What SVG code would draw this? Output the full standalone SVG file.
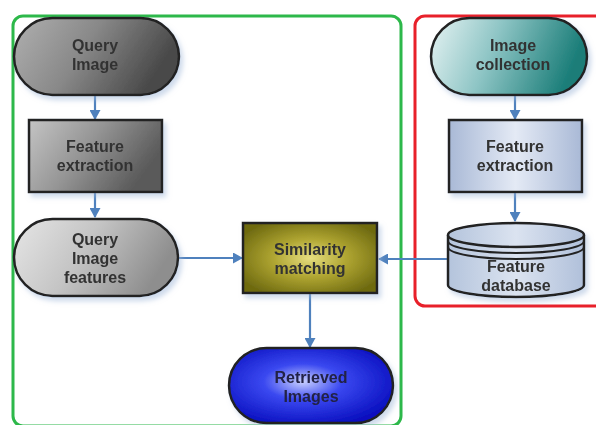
<svg xmlns="http://www.w3.org/2000/svg" width="596" height="425" viewBox="0 0 596 425">
<defs>
<linearGradient id="gDark" x1="0" y1="0" x2="1" y2="0.3"><stop offset="0" stop-color="#b0b0b0"/><stop offset="0.5" stop-color="#888"/><stop offset="1" stop-color="#484848"/></linearGradient>
<linearGradient id="gMid" x1="0" y1="0" x2="1" y2="0.4"><stop offset="0" stop-color="#c4c4c4"/><stop offset="0.5" stop-color="#959595"/><stop offset="1" stop-color="#5a5a5a"/></linearGradient>
<linearGradient id="gLight" x1="0" y1="0" x2="1" y2="0.3"><stop offset="0" stop-color="#e6e6e6"/><stop offset="0.5" stop-color="#c4c4c4"/><stop offset="1" stop-color="#8e8e8e"/></linearGradient>
<linearGradient id="gTeal" x1="0" y1="0" x2="1" y2="0.2"><stop offset="0" stop-color="#e6f3f3"/><stop offset="0.45" stop-color="#8ec5c5"/><stop offset="1" stop-color="#1a7d78"/></linearGradient>
<linearGradient id="gBlueBox" x1="0" y1="0" x2="1" y2="0"><stop offset="0" stop-color="#a9b9d6"/><stop offset="0.5" stop-color="#e4eaf5"/><stop offset="1" stop-color="#a9b9d6"/></linearGradient>
<linearGradient id="gCyl" x1="0" y1="0" x2="1" y2="0"><stop offset="0" stop-color="#b4c4dc"/><stop offset="0.5" stop-color="#dbe3f0"/><stop offset="1" stop-color="#b0c0da"/></linearGradient>
<radialGradient id="gOlive" cx="0.5" cy="0.5" r="0.6"><stop offset="0" stop-color="#e6de80"/><stop offset="0.45" stop-color="#b0a632"/><stop offset="1" stop-color="#6e6a10"/></radialGradient>
<radialGradient id="gBlue" cx="0.45" cy="0.45" r="0.6"><stop offset="0" stop-color="#c8d0ff"/><stop offset="0.4" stop-color="#3a48f0"/><stop offset="1" stop-color="#0a10c0"/></radialGradient>
<marker id="ah" markerWidth="11" markerHeight="11" refX="9" refY="5.5" orient="auto" markerUnits="userSpaceOnUse"><path d="M0,0 L10,5.5 L0,11 Z" fill="#4f81bd"/></marker>
<filter id="sh" x="-10%" y="-10%" width="130%" height="140%"><feDropShadow dx="3" dy="4" stdDeviation="2.5" flood-color="#9fb6d8" flood-opacity="0.5"/></filter>
</defs>
<style>
.lbl{font-family:"Liberation Sans",Arial,sans-serif;font-weight:bold;font-size:16px;fill:#333;text-anchor:middle}
.edge{stroke:#4f81bd;stroke-width:2.2;fill:none;marker-end:url(#ah)}
.node{stroke:#222;stroke-width:2.5}
</style>
<rect width="596" height="425" fill="#fff"/>
<g id="groups">
<rect x="13" y="16" width="388" height="410" rx="10" fill="none" stroke="#2db84a" stroke-width="3"/>
<rect x="415" y="16" width="190" height="290" rx="10" fill="none" stroke="#e8202a" stroke-width="3"/>
</g>
<g id="connectors">
<line class="edge" x1="95" y1="95" x2="95" y2="119"/>
<line class="edge" x1="95" y1="192" x2="95" y2="217"/>
<line class="edge" x1="178" y1="258" x2="242" y2="258"/>
<line class="edge" x1="515" y1="95" x2="515" y2="119"/>
<line class="edge" x1="515" y1="192" x2="515" y2="221"/>
<line class="edge" x1="447" y1="259" x2="379" y2="259"/>
<line class="edge" x1="310" y1="293" x2="310" y2="347"/>
</g>
<g id="query-image" filter="url(#sh)">
<rect class="node" x="14" y="18" width="165" height="77" rx="38.5" fill="url(#gDark)"/>
<text class="lbl" x="95" y="51">Query</text><text class="lbl" x="95" y="70">Image</text>
</g>
<g id="feature-extraction-left" filter="url(#sh)">
<rect class="node" x="29" y="120" width="133" height="72" fill="url(#gMid)"/>
<text class="lbl" x="95" y="152">Feature</text><text class="lbl" x="95" y="171">extraction</text>
</g>
<g id="query-image-features" filter="url(#sh)">
<rect class="node" x="14" y="219" width="164" height="77" rx="38.5" fill="url(#gLight)"/>
<text class="lbl" x="95" y="245">Query</text><text class="lbl" x="95" y="264">Image</text><text class="lbl" x="95" y="283">features</text>
</g>
<g id="similarity-matching" filter="url(#sh)">
<rect class="node" x="243" y="223" width="134" height="70" fill="url(#gOlive)"/>
<text class="lbl" x="310" y="255">Similarity</text><text class="lbl" x="310" y="274">matching</text>
</g>
<g id="retrieved-images" filter="url(#sh)">
<rect class="node" x="229" y="348" width="164" height="75" rx="37.5" fill="url(#gBlue)"/>
<text class="lbl" x="311" y="383" style="fill:#222244">Retrieved</text><text class="lbl" x="311" y="402" style="fill:#222244">Images</text>
</g>
<g id="image-collection" filter="url(#sh)">
<rect class="node" x="431" y="18" width="156" height="77" rx="38.5" fill="url(#gTeal)"/>
<text class="lbl" x="513" y="51">Image</text><text class="lbl" x="513" y="70">collection</text>
</g>
<g id="feature-extraction-right" filter="url(#sh)">
<rect class="node" x="449" y="120" width="133" height="72" fill="url(#gBlueBox)"/>
<text class="lbl" x="515" y="152">Feature</text><text class="lbl" x="515" y="171">extraction</text>
</g>
<g id="feature-database" filter="url(#sh)">
<path class="node" d="M448,235 L448,285 A68,12 0 0 0 584,285 L584,235" fill="url(#gCyl)"/>
<ellipse class="node" cx="516" cy="235" rx="68" ry="12" fill="url(#gCyl)"/>
<path d="M448,241 A68,12 0 0 0 584,241" fill="none" stroke="#222" stroke-width="2"/>
<path d="M448,247 A68,12 0 0 0 584,247" fill="none" stroke="#222" stroke-width="2"/>
<text class="lbl" x="516" y="272">Feature</text><text class="lbl" x="516" y="291">database</text>
</g>
</svg>
